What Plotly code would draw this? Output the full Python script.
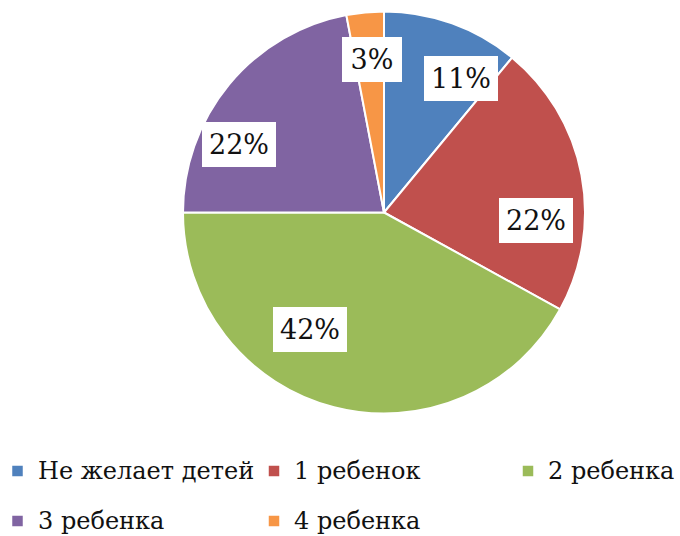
import math
import plotly.graph_objects as go

# ---- data ----
categories = ["Не желает детей", "1 ребенок", "2 ребенка", "3 ребенка", "4 ребенка"]
values = [11, 22, 42, 22, 3]
colors = ["#4F81BD", "#C0504D", "#9BBB59", "#8064A2", "#F79646"]

# ---- layout / style constants ----
W, H = 680, 536
CX, CY, R = 384.0, 212.5, 201.0          # pie centre and radius in pixels
FONT = "DejaVu Serif"
LABEL_SIZE = 27
LEGEND_SIZE = 24
label_angle_nudge = [10, 14, 18, -14.5, 1]
label_radius_frac = [0.77, 0.756, 0.69, 0.796, 0.764]
legend_col_x = [17.5, 274, 528]
legend_row_y = [471, 521]
legend_cols = 3
square = 10.5
text_gap = 18


def px(x):
    return x / W


def py(y):
    return 1 - y / H


fig = go.Figure()
fig.add_trace(go.Pie(
    labels=categories,
    values=values,
    sort=False,
    direction="clockwise",
    rotation=0,
    marker=dict(colors=colors, line=dict(color="white", width=2)),
    textinfo="none",
    hoverinfo="label+percent",
    showlegend=False,
    domain=dict(x=[px(CX - R), px(CX + R)], y=[py(CY + R), py(CY - R)]),
))

annotations = []
shapes = []
total = float(sum(values))
cum = 0.0
for i, v in enumerate(values):
    mid = (cum + v / 2.0) / total * 360.0
    cum += v
    ang = math.radians(mid + label_angle_nudge[i])
    r = R * label_radius_frac[i]
    x = CX + r * math.sin(ang)
    y = CY - r * math.cos(ang)
    txt = f"{round(v / total * 100)}%"
    annotations.append(dict(
        x=px(x), y=py(y), xref="paper", yref="paper",
        text=txt, showarrow=False,
        font=dict(family=FONT, size=LABEL_SIZE, color="#111111"),
        bgcolor="white", borderpad=4, borderwidth=1, bordercolor="white",
        width=64 if len(txt) > 2 else 50, height=35,
        xanchor="center", yanchor="middle",
    ))

for i, (cat, col) in enumerate(zip(categories, colors)):
    cx = legend_col_x[i % legend_cols]
    cy = legend_row_y[i // legend_cols]
    shapes.append(dict(
        type="rect", xref="paper", yref="paper",
        x0=px(cx - square / 2), x1=px(cx + square / 2),
        y0=py(cy + square / 2), y1=py(cy - square / 2),
        fillcolor=col, line=dict(width=0),
    ))
    annotations.append(dict(
        x=px(cx + text_gap), y=py(cy), xref="paper", yref="paper",
        text=cat, showarrow=False, xanchor="left", yanchor="middle",
        font=dict(family=FONT, size=LEGEND_SIZE, color="#111111"),
    ))

fig.update_layout(
    width=W, height=H,
    margin=dict(l=0, r=0, t=0, b=0),
    paper_bgcolor="white", plot_bgcolor="white",
    font=dict(family=FONT),
    annotations=annotations, shapes=shapes,
    showlegend=False,
)

fig.write_html(
    "out.html",
    config={"displayModeBar": False},
    post_script="document.body.style.margin='0';document.body.style.overflow='hidden';",
)
